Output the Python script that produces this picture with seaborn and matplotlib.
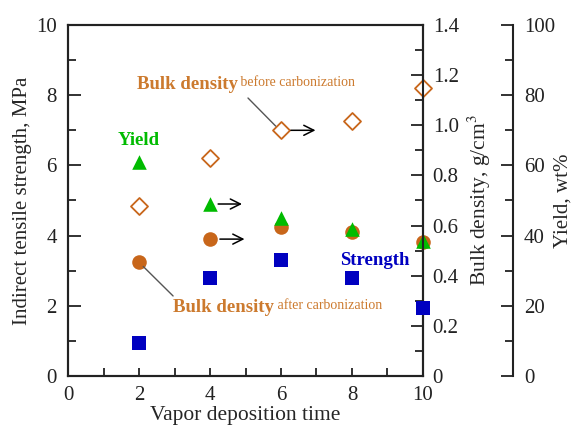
import matplotlib
matplotlib.use("Agg")
import matplotlib.pyplot as plt
import seaborn as sns
import pandas as pd
from matplotlib.ticker import MultipleLocator, FuncFormatter

# ---- data ----
time = [2, 4, 6, 8, 10]
strength = [0.95, 2.8, 3.3, 2.8, 1.95]             # MPa
density_before = [0.68, 0.868, 0.98, 1.017, 1.149]  # g/cm3
density_after = [0.455, 0.546, 0.595, 0.574, 0.535]  # g/cm3
yield_pct = [61, 49, 45, 42, 38.5]                  # wt%

df = pd.DataFrame({"time": time, "strength": strength,
                   "before": density_before, "after": density_after,
                   "yield": yield_pct})

sns.set_style("ticks")
plt.rcParams['font.family'] = ['Liberation Serif', 'DejaVu Serif']
plt.rcParams['mathtext.fontset'] = 'stix'

ORANGE = "#c8661a"
GREEN = "#00bb00"
BLUE = "#0000c0"
TXT_OR = "#cc7a2e"
DARK = "#222222"

fig = plt.figure(figsize=(5.73, 4.28), dpi=100)
ax = fig.add_axes([0.1187, 0.1215, 0.6195, 0.8201])
ax2 = ax.twinx()
ax3 = ax.twinx()
ax3.spines['right'].set_position(('axes', 1.2535))

# ---- marks ----
sns.scatterplot(data=df, x="time", y="before", ax=ax2, marker="D", s=75,
                facecolor="white", edgecolor=ORANGE, linewidth=1.3,
                zorder=3, clip_on=False)
sns.scatterplot(data=df, x="time", y="after", ax=ax2, marker="o", s=110,
                color=ORANGE, edgecolor=ORANGE, linewidth=0,
                zorder=3, clip_on=False)
sns.scatterplot(data=df, x="time", y="yield", ax=ax3, marker="^", s=110,
                color=GREEN, edgecolor=GREEN, linewidth=0,
                zorder=4, clip_on=False)
sns.scatterplot(data=df, x="time", y="strength", ax=ax, marker="s", s=95,
                color=BLUE, edgecolor=BLUE, linewidth=0,
                zorder=3, clip_on=False)

# ---- axes ----
ax.set_xlim(0, 10)
ax.set_ylim(0, 10)
ax2.set_ylim(0, 1.4)
ax3.set_ylim(0, 100)

ax.set_xlabel("Vapor deposition time", fontsize=15.5, labelpad=1)
ax.set_ylabel("Indirect tensile strength, MPa", fontsize=15, labelpad=3)
ax2.set_ylabel("Bulk density, g/cm$^3$", fontsize=15.5, labelpad=5)
ax3.set_ylabel("Yield, wt%", fontsize=15, labelpad=-1)

ax.xaxis.set_major_locator(MultipleLocator(2))
ax.xaxis.set_minor_locator(MultipleLocator(1))
ax.yaxis.set_major_locator(MultipleLocator(2))
ax.yaxis.set_minor_locator(MultipleLocator(1))
ax2.yaxis.set_major_locator(MultipleLocator(0.2))
ax2.yaxis.set_minor_locator(MultipleLocator(0.1))
ax3.yaxis.set_major_locator(MultipleLocator(20))
ax3.yaxis.set_minor_locator(MultipleLocator(10))
ax2.yaxis.set_major_formatter(FuncFormatter(
    lambda v, p: "0" if abs(v) < 1e-9 else f"{v:.1f}"))

for a in (ax, ax2, ax3):
    a.tick_params(which='both', direction='in', labelsize=15, width=1.3,
                  colors=DARK)
    a.tick_params(which='major', length=9)
    a.tick_params(which='minor', length=6)
ax.tick_params(axis='x', which='major', length=6, pad=7)
ax.tick_params(axis='y', which='both', pad=8)
ax.tick_params(top=False, which='both')
ax2.tick_params(axis='y', which='both', pad=7)
ax3.tick_params(axis='y', which='both', pad=8)

for a in (ax, ax2, ax3):
    for s in a.spines.values():
        s.set_linewidth(1.5)
        s.set_color(DARK)
for side in ('top', 'left', 'bottom'):
    ax3.spines[side].set_visible(False)

# layering: density below, yield above it, strength on top
ax2.set_zorder(1)
ax3.set_zorder(2)
ax.set_zorder(3)
for a in (ax, ax2, ax3):
    a.patch.set_visible(False)

# ---- annotations ----
ax.text(1.98, 6.72, "Yield", color=GREEN, fontsize=13.5, fontweight='bold',
        ha='center', va='center')
ax.text(8.65, 3.3, "Strength", color=BLUE, fontsize=13.5, fontweight='bold',
        ha='center', va='center')

t1 = ax.text(1.93, 8.3, "Bulk density", color=TXT_OR, fontsize=13.5,
             fontweight='bold', ha='left', va='center')
ax.annotate(" before carbonization", xycoords=t1, xy=(1, 0.22), color=TXT_OR,
            fontsize=10, ha='left', va='bottom')
t2 = ax.text(2.95, 1.95, "Bulk density", color=TXT_OR, fontsize=13.5,
             fontweight='bold', ha='left', va='center')
ax.annotate(" after carbonization", xycoords=t2, xy=(1, 0.22), color=TXT_OR,
            fontsize=10, ha='left', va='bottom')

# leader lines
ax.plot([5.07, 5.85], [7.92, 7.12], color='#555555', lw=1)
ax.plot([2.12, 2.96], [3.12, 2.28], color='#555555', lw=1)

# arrows pointing to the right-hand axes
arrow = dict(arrowstyle='->', color='black', lw=1.1, mutation_scale=18)
ax.annotate("", xy=(7.05, 7.0), xytext=(6.2, 7.0), arrowprops=arrow)
ax.annotate("", xy=(4.98, 4.9), xytext=(4.15, 4.9), arrowprops=arrow)
ax.annotate("", xy=(5.05, 3.9), xytext=(4.2, 3.9), arrowprops=arrow)

fig.savefig("out.png", dpi=100)
